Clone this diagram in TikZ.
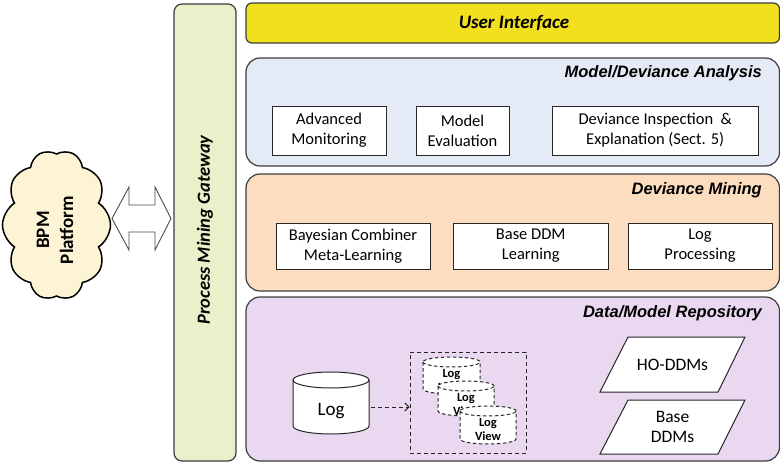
\documentclass[tikz,border=0pt]{standalone}
\usepackage{fontspec}
\setmainfont{Carlito}
\newfontfamily\arialfont{Liberation Sans}
\usetikzlibrary{shapes.symbols,arrows.meta}
\definecolor{uiyellow}{HTML}{F2E01E}
\definecolor{mdblue}{HTML}{E4EBF6}
\definecolor{dmpeach}{HTML}{FCDDBF}
\definecolor{replav}{HTML}{EAD8F1}
\definecolor{gwgreen}{HTML}{EAF1CA}
\definecolor{cloudc}{HTML}{FCF4D4}
\definecolor{edgegray}{HTML}{3C3C3C}
\begin{document}
\begin{tikzpicture}[x=1pt,y=1pt,
  sect/.style={draw=edgegray, line width=1.2pt, rounded corners=14pt, inner sep=0pt},
  inbox/.style={draw=black!85, line width=0.9pt, fill=white, align=center, inner sep=0pt,
    font=\fontsize{16.5}{20}\selectfont},
  sectitle/.style={anchor=east, inner sep=0pt, font=\arialfont\bfseries\itshape\fontsize{16.5}{20}\selectfont},
  cyl/.style={draw=black!85, line width=1pt, fill=white},
  dcyl/.style={draw=black!85, line width=1pt, fill=white, dash pattern=on 3.5pt off 2.5pt},
  viewtext/.style={align=center, inner sep=0pt, font=\bfseries\fontsize{12.5}{14}\selectfont},
  plain/.style={align=center, inner sep=0pt, font=\fontsize{17.5}{20}\selectfont}
]
\useasboundingbox (0,0) rectangle (780,-463);

% Gateway
\node[draw=edgegray, line width=1.2pt, fill=gwgreen, rounded corners=8pt,
  minimum width=62pt, minimum height=457pt, inner sep=0pt] (gw) at (205,-232.5) {};
\node[rotate=90, inner sep=0pt, font=\bfseries\itshape\fontsize{18.5}{22}\selectfont] (gwtext) at (205,-230) {Process Mining Gateway};

% User interface
\node[draw=edgegray, line width=1.2pt, fill=uiyellow, rounded corners=6pt,
  minimum width=533.5pt, minimum height=40pt, inner sep=0pt] (ui) at (512.75,-23) {};
\node[inner sep=0pt, font=\bfseries\itshape\fontsize{19}{22}\selectfont] (uitext) at (514,-23) {User Interface};

% Model/Deviance Analysis
\node[sect, fill=mdblue, minimum width=533.5pt, minimum height=108pt] (mda) at (512.75,-112) {};
\node[sectitle] (mdatitle) at (762,-73) {Model/Deviance Analysis};
\node[inbox, minimum width=114pt, minimum height=49pt] (am) at (329,-130.5) {Advanced\\Monitoring};
\node[inbox, minimum width=93pt, minimum height=49pt] (me) at (462.5,-130.5) {Model\\Evaluation};
\node[inbox, minimum width=205.5pt, minimum height=49pt] (di) at (655.25,-130.5) {Deviance Inspection \ \&\\Explanation (Sect. 5)};

% Deviance Mining
\node[sect, fill=dmpeach, minimum width=533.5pt, minimum height=117pt] (dm) at (512.75,-232.5) {};
\node[sectitle] (dmtitle) at (762,-190) {Deviance Mining};
\node[inbox, minimum width=154pt, minimum height=46pt] (bc) at (353,-246) {Bayesian Combiner\\Meta-Learning};
\node[inbox, minimum width=154.5pt, minimum height=46pt] (bd) at (530.75,-246) {Base DDM\\Learning};
\node[inbox, minimum width=144pt, minimum height=46pt] (lp) at (700,-246) {Log\\Processing};

% Data/Model Repository
\node[sect, fill=replav, minimum width=533.5pt, minimum height=164pt] (rep) at (512.75,-379) {};
\node[sectitle] (reptitle) at (762,-313) {Data/Model Repository};

% Log cylinder
\draw[cyl] (293,-380) -- (293,-426) arc[start angle=180,end angle=360,x radius=38,y radius=8]
  -- (369,-380) arc[start angle=0,end angle=180,x radius=38,y radius=8] -- cycle;
\draw[cyl, fill=none] (293,-380) arc[start angle=180,end angle=360,x radius=38,y radius=8];
\node[inner sep=0pt, minimum width=76pt, minimum height=54pt, font=\fontsize{19}{22}\selectfont] (log) at (331,-411) {Log};

% Views container
\node[draw=black!85, line width=1pt, dash pattern=on 4pt off 3pt, minimum width=116pt, minimum height=101pt, inner sep=0pt] (views) at (468,-402.5) {};
\coordinate (arry) at (0,-407);
\draw[black!85, line width=1pt, dash pattern=on 4pt off 3pt, -{Straight Barb[length=4pt,width=8pt]}, shorten <=2pt]
  (log.east |- arry) -- (views.west |- arry);

% Log view 1
\draw[dcyl] (423,-362) -- (423,-389) arc[start angle=180,end angle=360,x radius=28.5,y radius=5]
  -- (480,-362) arc[start angle=0,end angle=180,x radius=28.5,y radius=5] -- cycle;
\draw[dcyl, fill=none] (423,-362) arc[start angle=180,end angle=360,x radius=28.5,y radius=5];
\node[viewtext] (lv1) at (451.5,-380.5) {Log\\View};
% Log view 2
\draw[dcyl] (438,-386) -- (438,-411) arc[start angle=180,end angle=360,x radius=28,y radius=5]
  -- (494,-386) arc[start angle=0,end angle=180,x radius=28,y radius=5] -- cycle;
\draw[dcyl, fill=none] (438,-386) arc[start angle=180,end angle=360,x radius=28,y radius=5];
\node[viewtext] (lv2) at (466,-404.5) {Log\\View};
% Log view 3
\draw[dcyl] (460,-411) -- (460,-439) arc[start angle=180,end angle=360,x radius=28,y radius=5]
  -- (516,-411) arc[start angle=0,end angle=180,x radius=28,y radius=5] -- cycle;
\draw[dcyl, fill=none] (460,-411) arc[start angle=180,end angle=360,x radius=28,y radius=5];
\node[viewtext] (lv3) at (488,-429.5) {Log\\View};

% Parallelograms
\draw[cyl] (628,-337) -- (745,-337) -- (718,-392) -- (600,-392) -- cycle;
\node[plain] (ho) at (672.5,-364.5) {HO-DDMs};
\draw[cyl] (628,-400) -- (745,-400) -- (718,-454) -- (600,-454) -- cycle;
\node[plain] (bddm) at (672.5,-427) {Base\\DDMs};

% Cloud
\node[cloud, draw=black, line width=1.5pt, fill=cloudc, cloud puffs=10, cloud puff arc=115,
  aspect=1.4, minimum width=150pt, minimum height=108pt, inner sep=0pt, rotate=90] (bpm) at (56.5,-225) {};
\node[rotate=90, align=center, inner sep=0pt, font=\bfseries\fontsize{19}{24}\selectfont] (bpmtext) at (55,-230) {BPM\\Platform};

% Double block arrow
\draw[fill=white, draw=black!70, line width=0.9pt]
  (112,-218.5) -- (129,-187) -- (129,-205) -- (155,-205) -- (155,-187) -- (171,-218.5)
  -- (155,-250) -- (155,-232) -- (129,-232) -- (129,-250) -- cycle;
\end{tikzpicture}
\end{document}
